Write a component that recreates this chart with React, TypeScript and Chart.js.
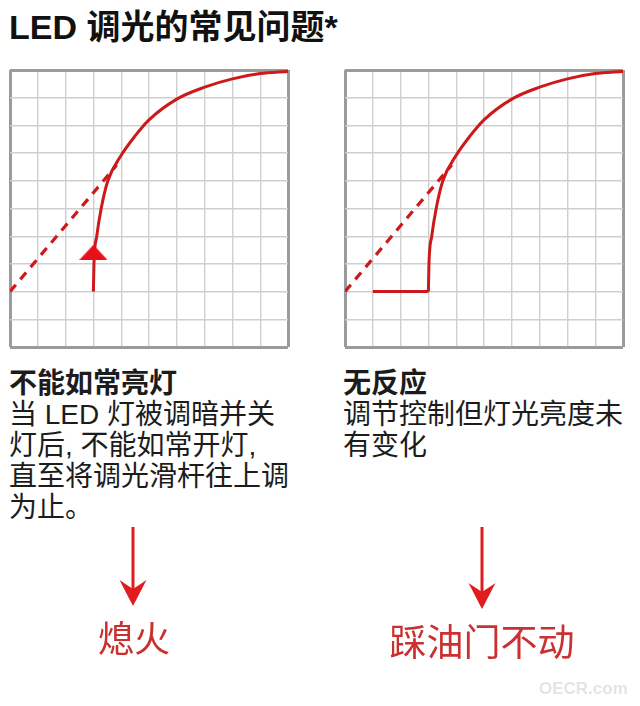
import React, { useEffect, useRef } from "react";
import { Chart, registerables } from "chart.js";

Chart.register(...registerables);

// ---- data ----
const axisMin = 0;
const axisMax = 10;
const gridStep = 1;

// rising dimming curve (both panels)
const curveX = [3.0, 3.02, 3.12, 3.28, 3.52, 4.0, 4.5, 5.0, 6.0, 7.0, 8.0, 9.0, 10.0];
const curveY = [2.0, 3.0, 4.0, 5.0, 6.0, 6.92, 7.62, 8.2, 8.95, 9.38, 9.68, 9.87, 9.95];

// ideal linear response (dashed)
const dashX = [0, 3.84];
const dashY = [2, 6.57];

// left panel: upward arrow marker
const markerX = [3.0];
const markerY = [3.42];

// right panel: flat (no response) segment
const flatX = [1, 3];
const flatY = [2, 2];

const title = "LED 调光的常见问题*";
const leftHead = "不能如常亮灯";
const leftLines = ["当 LED 灯被调暗并关", "灯后, 不能如常开灯,", "直至将调光滑杆往上调", "为止。"];
const rightHead = "无反应";
const rightLines = ["调节控制但灯光亮度未", "有变化"];
const leftLabel = "熄火";
const rightLabel = "踩油门不动";
const watermark = "OECR.com";

const RED = "#cc1a1c";
const zip = (xs: number[], ys: number[]) => xs.map((x, i) => ({ x, y: ys[i] }));

function makeTriangle(): HTMLCanvasElement {
  const c = document.createElement("canvas");
  c.width = 28;
  c.height = 15;
  const ctx = c.getContext("2d")!;
  ctx.fillStyle = "#e8101a";
  ctx.beginPath();
  ctx.moveTo(14, 0);
  ctx.lineTo(28, 15);
  ctx.lineTo(0, 15);
  ctx.closePath();
  ctx.fill();
  return c;
}

function scaleOpts() {
  const edge = (v: number) => v === axisMin || v === axisMax;
  return {
    type: "linear" as const,
    min: axisMin,
    max: axisMax,
    ticks: { display: false, stepSize: gridStep, autoSkip: false },
    border: { display: false },
    grid: {
      drawTicks: false,
      color: (c: any) => (edge(c.tick?.value) ? "#9b9b9b" : "#cfcfcf"),
      lineWidth: (c: any) => (edge(c.tick?.value) ? 3 : 1.4),
    },
  };
}

function Panel({ kind, style }: { kind: "left" | "right"; style: React.CSSProperties }) {
  const ref = useRef<HTMLCanvasElement>(null);
  useEffect(() => {
    const datasets: any[] = [];
    if (kind === "left") {
      datasets.push({
        data: zip(markerX, markerY),
        showLine: false,
        pointStyle: makeTriangle(),
        pointRadius: 10,
      });
    }
    datasets.push({
      data: zip(curveX, curveY),
      borderColor: RED,
      borderWidth: 3,
      cubicInterpolationMode: "monotone",
      pointRadius: 0,
    });
    if (kind === "right") {
      datasets.push({
        data: zip(flatX, flatY),
        borderColor: RED,
        borderWidth: 3,
        pointRadius: 0,
      });
    }
    datasets.push({
      data: zip(dashX, dashY),
      borderColor: RED,
      borderWidth: 3.2,
      borderDash: [9, 7],
      pointRadius: 0,
    });
    const chart = new Chart(ref.current!, {
      type: "line",
      data: { datasets },
      options: {
        responsive: false,
        animation: false,
        devicePixelRatio: 1,
        layout: { padding: 4, autoPadding: false },
        plugins: { legend: { display: false }, tooltip: { enabled: false } },
        scales: { x: scaleOpts(), y: scaleOpts() },
      } as any,
    });
    return () => chart.destroy();
  }, [kind]);
  return <canvas ref={ref} width={286} height={285} style={{ position: "absolute", ...style }} />;
}

const latinCjk = "'Liberation Sans', 'Noto Sans CJK SC', sans-serif";

function DownArrow({ cx, top, tip }: { cx: number; top: number; tip: number }) {
  return (
    <svg style={{ position: "absolute", left: 0, top: 0 }} width={640} height={706}>
      <line x1={cx} y1={top} x2={cx} y2={tip - 12} stroke="#e01c1c" strokeWidth={3} />
      <polygon
        points={`${cx - 13.5},${tip - 26} ${cx},${tip - 17} ${cx + 13.5},${tip - 26} ${cx},${tip}`}
        fill="#e01c1c"
      />
    </svg>
  );
}

export default function App() {
  const bodyStyle: React.CSSProperties = {
    position: "absolute",
    font: `28px ${latinCjk}`,
    lineHeight: "31px",
    color: "#1c1c1c",
    whiteSpace: "pre",
  };
  return (
    <div style={{ position: "absolute", left: 0, top: 0, width: 640, height: 706, background: "#fff", overflow: "hidden" }}>
      <div
        style={{
          position: "absolute",
          left: 9,
          top: 10,
          font: `bold 34px ${latinCjk}`,
          lineHeight: "34px",
          color: "#111",
          whiteSpace: "pre",
        }}
      >
        {title}
      </div>
      <Panel kind="left" style={{ left: 6, top: 66 }} />
      <Panel kind="right" style={{ left: 341, top: 66 }} />
      <div style={{ ...bodyStyle, left: 9, top: 368 }}>
        <div style={{ fontWeight: "bold" }}>{leftHead}</div>
        {leftLines.map((l, i) => (
          <div key={i}>{l}</div>
        ))}
      </div>
      <div style={{ ...bodyStyle, left: 343, top: 368 }}>
        <div style={{ fontWeight: "bold" }}>{rightHead}</div>
        {rightLines.map((l, i) => (
          <div key={i}>{l}</div>
        ))}
      </div>
      <DownArrow cx={133} top={527} tip={606} />
      <DownArrow cx={482} top={527} tip={609} />
      <div
        style={{
          position: "absolute",
          left: 34,
          width: 200,
          top: 614,
          textAlign: "center",
          font: `36px 'Noto Sans CJK SC', sans-serif`,
          lineHeight: "44px",
          color: "#c9302f",
        }}
      >
        {leftLabel}
      </div>
      <div
        style={{
          position: "absolute",
          left: 332,
          width: 300,
          top: 618,
          textAlign: "center",
          font: `37px 'Noto Sans CJK SC', sans-serif`,
          lineHeight: "44px",
          color: "#c9302f",
        }}
      >
        {rightLabel}
      </div>
      <div
        style={{
          position: "absolute",
          left: 539,
          top: 679,
          font: `bold 17px 'Liberation Sans', sans-serif`,
          lineHeight: "20px",
          color: "#e4e4e4",
        }}
      >
        {watermark}
      </div>
    </div>
  );
}
